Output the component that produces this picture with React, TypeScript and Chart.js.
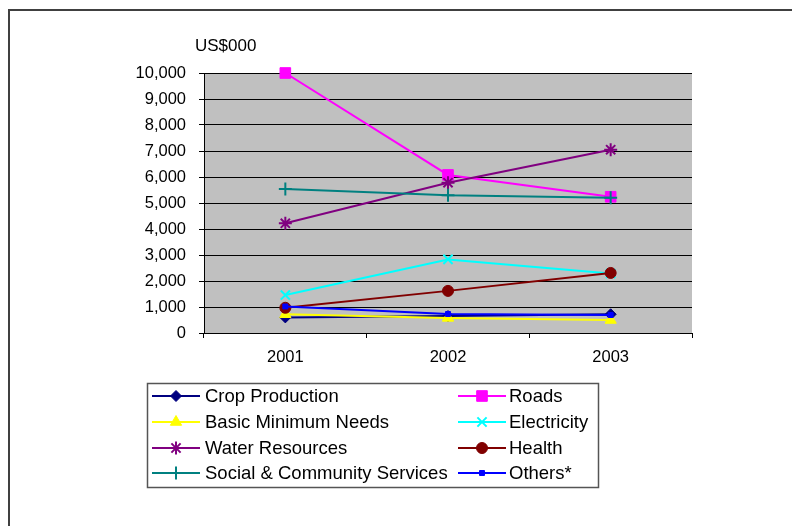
import React, { useEffect, useRef } from "react";
import { Chart, registerables } from "chart.js";
import { drawPoint } from "chart.js/helpers";

Chart.register(...registerables);

const years = ["2001", "2002", "2003"];
const cropProduction = [600, 650, 720];
const roads = [10000, 6080, 5240];
const basicMinimumNeeds = [720, 580, 500];
const electricity = [1460, 2830, 2290];
const waterResources = [4220, 5780, 7050];
const health = [970, 1620, 2310];
const socialCommunity = [5540, 5300, 5200];
const others = [1020, 730, 690];

const unitLabel = "US$000";
const FONT = "Arial, 'Liberation Sans', sans-serif";

type Series = {
  label: string;
  data: number[];
  color: string;
  style: string;
  radius: number;
  border: number;
};

const series: Series[] = [
  { label: "Crop Production", data: cropProduction, color: "#000080", style: "rectRot", radius: 5.5, border: 1 },
  { label: "Roads", data: roads, color: "#FF00FF", style: "rect", radius: 7.5, border: 1 },
  { label: "Basic Minimum Needs", data: basicMinimumNeeds, color: "#FFFF00", style: "triangle", radius: 6.5, border: 1 },
  { label: "Electricity", data: electricity, color: "#00FFFF", style: "crossRot", radius: 6.5, border: 2 },
  { label: "Water Resources", data: waterResources, color: "#800080", style: "star", radius: 6.5, border: 2 },
  { label: "Health", data: health, color: "#800000", style: "circle", radius: 5.5, border: 1 },
  { label: "Social & Community Services", data: socialCommunity, color: "#008080", style: "cross", radius: 6.5, border: 2 },
  { label: "Others*", data: others, color: "#0000FF", style: "rect", radius: 3.5, border: 1 },
];

const framePlugin = {
  id: "frameAndLegend",
  beforeDraw(chart: any) {
    const { ctx, chartArea } = chart;
    ctx.save();
    ctx.fillStyle = "#FFFFFF";
    ctx.fillRect(0, 0, chart.width, chart.height);
    ctx.fillStyle = "#C0C0C0";
    ctx.fillRect(chartArea.left, chartArea.top, chartArea.right - chartArea.left, chartArea.bottom - chartArea.top);
    ctx.restore();
  },
  afterDraw(chart: any) {
    const { ctx } = chart;
    ctx.save();
    // outer frame
    ctx.strokeStyle = "#404040";
    ctx.lineWidth = 2;
    ctx.strokeRect(9, 10, 900, 900);

    // unit caption
    ctx.fillStyle = "#000";
    ctx.font = `17px ${FONT}`;
    ctx.textBaseline = "middle";
    ctx.textAlign = "left";
    ctx.fillText(unitLabel, 195, 46);

    // legend box
    ctx.strokeStyle = "#555555";
    ctx.lineWidth = 1.5;
    ctx.strokeRect(147.5, 383.5, 451, 104);

    const rowY = [396, 422, 448, 473];
    const cols = [
      { x0: 152, x1: 200, tx: 205 },
      { x0: 458, x1: 506, tx: 509 },
    ];
    ctx.font = `18.5px ${FONT}`;
    series.forEach((s, i) => {
      const col = cols[i % 2];
      const y = rowY[Math.floor(i / 2)];
      ctx.strokeStyle = s.color;
      ctx.lineWidth = 2;
      ctx.beginPath();
      ctx.moveTo(col.x0, y);
      ctx.lineTo(col.x1, y);
      ctx.stroke();
      ctx.fillStyle = s.color;
      ctx.lineWidth = s.border;
      drawPoint(ctx, { pointStyle: s.style as any, radius: s.radius, borderWidth: s.border, rotation: 0 }, (col.x0 + col.x1) / 2, y);
      ctx.fillStyle = "#000";
      ctx.fillText(s.label, col.tx, y + 1);
    });
    ctx.restore();
  },
};

export default function App() {
  const canvasRef = useRef<HTMLCanvasElement | null>(null);

  useEffect(() => {
    document.body.style.margin = "0";
    const canvas = canvasRef.current;
    if (!canvas) return;
    const chart = new Chart(canvas, {
      type: "line",
      data: {
        labels: years,
        datasets: series.map((s, i) => ({
          label: s.label,
          data: s.data,
          borderColor: s.color,
          backgroundColor: s.color,
          borderWidth: 2,
          pointStyle: s.style as any,
          pointRadius: s.radius,
          pointBorderWidth: s.border,
          pointBackgroundColor: s.color,
          pointBorderColor: s.color,
          tension: 0,
          fill: false,
          clip: false,
          order: series.length - i,
        })),
      },
      options: {
        animation: false,
        responsive: false,
        devicePixelRatio: 1,
        layout: { padding: { left: 114, right: 100, top: 73, bottom: 153 } },
        plugins: {
          legend: { display: false },
          tooltip: { enabled: false },
        },
        scales: {
          x: {
            offset: true,
            grid: {
              display: true,
              drawOnChartArea: false,
              drawTicks: true,
              tickLength: 5,
              offset: true,
              color: "#000",
            },
            border: { color: "#000", width: 1 },
            ticks: { color: "#000", font: { family: FONT, size: 16.5 }, padding: 10 },
            afterFit: (scale: any) => {
              scale.height = 40;
            },
          },
          y: {
            min: 0,
            max: 10000,
            grid: { color: "#000", lineWidth: 1, tickLength: 5, drawTicks: true },
            border: { color: "#000", width: 1 },
            ticks: {
              stepSize: 1000,
              color: "#000",
              font: { family: FONT, size: 16.5 },
              padding: 13,
              callback: (v: any) => Number(v).toLocaleString("en-US"),
            },
            afterFit: (scale: any) => {
              scale.width = 90;
            },
          },
        },
      },
      plugins: [framePlugin],
    });
    return () => chart.destroy();
  }, []);

  return <canvas ref={canvasRef} width={792} height={526} style={{ display: "block", width: 792, height: 526 }} />;
}
